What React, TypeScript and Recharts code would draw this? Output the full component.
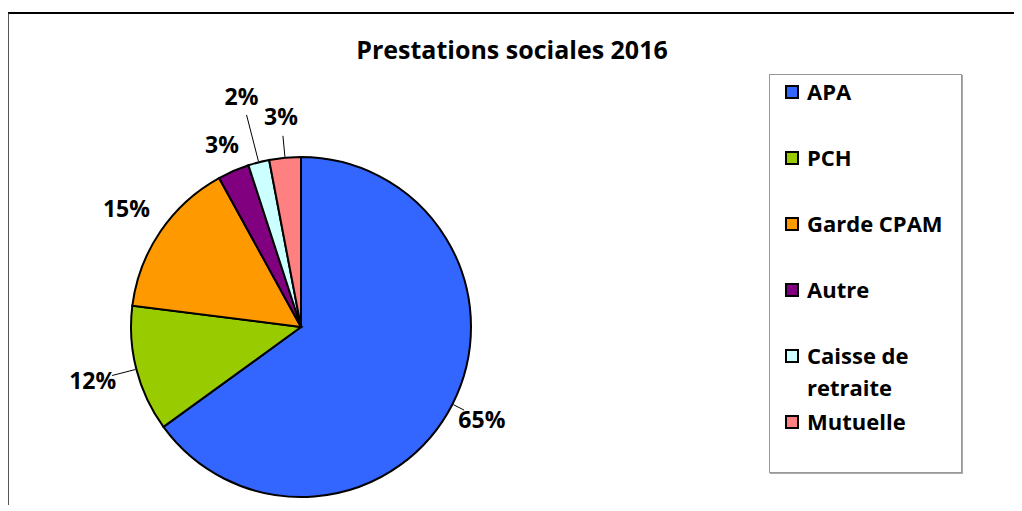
import { PieChart, Pie, Cell, Legend } from "recharts";

const categories = ["APA", "PCH", "Garde CPAM", "Autre", "Caisse de retraite", "Mutuelle"];
const shares = [65, 12, 15, 3, 2, 3];
const colors = ["#3366FF", "#99CC00", "#FF9900", "#800080", "#CCFFFF", "#FF8080"];
// how far each percentage label sits outside the pie, and whether it gets a leader line
const labelGap = [33, 45, 41, 29, 69, 42];
const withLeader = [true, true, false, false, true, true];

const data = categories.map((name, i) => ({ name, value: shares[i] }));

const RAD = Math.PI / 180;
const FONT = "'Open Sans', Lato, sans-serif";

const renderLabel = (props: any) => {
  const { cx, cy, midAngle, outerRadius, value, index } = props;
  const cos = Math.cos(-midAngle * RAD);
  const sin = Math.sin(-midAngle * RAD);
  const lr = outerRadius + labelGap[index];
  const x = cx + lr * cos;
  const y = cy + lr * sin;
  const x1 = cx + (outerRadius + 1) * cos;
  const y1 = cy + (outerRadius + 1) * sin;
  const x2 = cx + (lr - 20) * cos;
  const y2 = cy + (lr - 20) * sin;
  return (
    <g>
      {withLeader[index] && (
        <line x1={x1} y1={y1} x2={x2} y2={y2} stroke="#000" strokeWidth={1} />
      )}
      <text
        x={x}
        y={y}
        textAnchor="middle"
        dominantBaseline="central"
        fontFamily={FONT}
        fontWeight="bold"
        fontSize={23}
        fill="#000"
      >
        {value}%
      </text>
    </g>
  );
};

const renderLegend = () => (
  <div
    style={{
      width: 193,
      height: 399,
      boxSizing: "border-box",
      border: "1px solid #999",
      boxShadow: "1px 1px 0 #aaa",
      background: "#fff",
      paddingTop: 0,
      paddingLeft: 15,
      fontFamily: FONT,
      fontWeight: "bold",
      fontSize: 22,
      color: "#000",
    }}
  >
    {categories.map((name, i) => (
      <div
        key={name}
        style={{ height: 66, display: "flex", alignItems: "flex-start", lineHeight: "32px" }}
      >
        <span
          style={{
            display: "inline-block",
            width: 10,
            height: 10,
            marginTop: 10,
            marginRight: 8,
            border: "2px solid #000",
            background: colors[i],
            flexShrink: 0,
          }}
        />
        <span style={{ maxWidth: 150, whiteSpace: "normal" }}>{name}</span>
      </div>
    ))}
  </div>
);

export default function App() {
  return (
    <div
      style={{
        position: "relative",
        top: 4,
        left: -1,
        width: 1011,
        height: 495,
        borderTop: "2px solid #000",
        borderLeft: "2px solid #555",
      }}
    >
      <PieChart width={1011} height={495} margin={{ top: 0, right: 0, bottom: 0, left: 0 }}>
        <text
          x={503}
          y={45}
          textAnchor="middle"
          fontFamily={FONT}
          fontWeight="bold"
          fontSize={25}
          fill="#000"
        >
          Prestations sociales 2016
        </text>
        <Pie
          data={data}
          dataKey="value"
          nameKey="name"
          cx={292}
          cy={313}
          outerRadius={170}
          startAngle={90}
          endAngle={-270}
          stroke="#000"
          strokeWidth={2}
          label={renderLabel}
          labelLine={false}
          isAnimationActive={false}
        >
          {data.map((d, i) => (
            <Cell key={d.name} fill={colors[i]} />
          ))}
        </Pie>
        <Legend
          content={renderLegend}
          wrapperStyle={{ position: "absolute", left: 760, top: 60, width: 193, height: 399 }}
        />
      </PieChart>
    </div>
  );
}
